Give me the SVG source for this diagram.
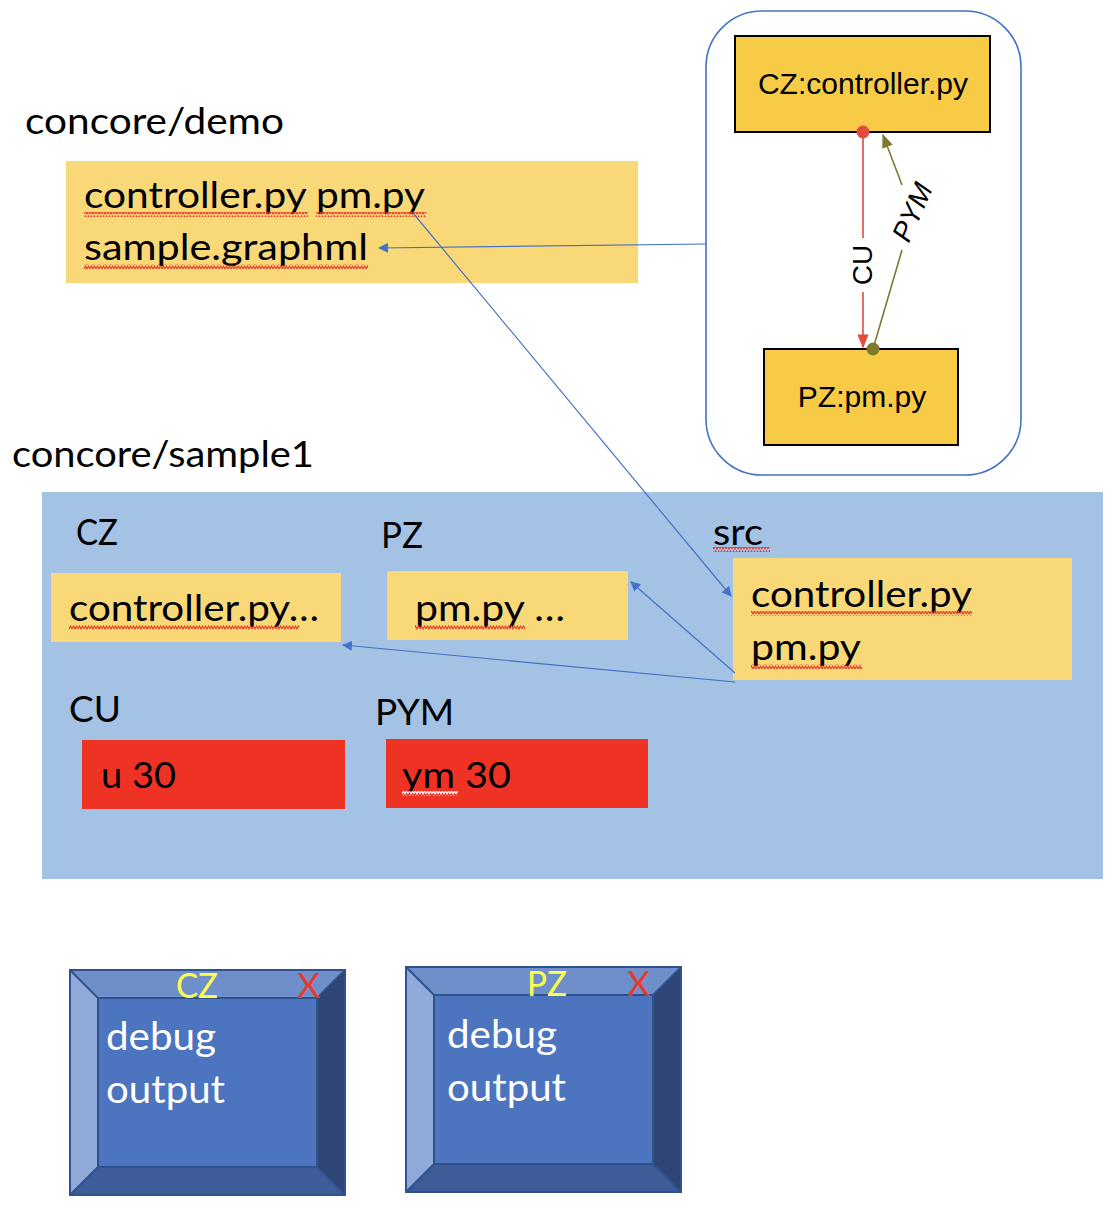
<svg xmlns="http://www.w3.org/2000/svg" width="1112" height="1212" viewBox="0 0 1112 1212">
<defs>
<style>
.cal{font-family:Lato,"Open Sans","Liberation Sans",sans-serif;font-size:37px;fill:#000}
.hel{font-family:"Liberation Sans",Arial,sans-serif;font-size:30px;fill:#000}
.ybox{fill:#F9D878}
.gbox{fill:#F7CB45;stroke:#000;stroke-width:2}
.rbox{fill:#EE3324}
.conn{stroke:#4472C4;stroke-width:1.2;fill:none}
.wt{fill:#fff;font-size:39px}
.yl{fill:#FFFF4D;font-size:34px}
.xr{fill:#E8392B;font-size:34px}
</style>
<pattern id="sq" width="6" height="5" patternUnits="userSpaceOnUse">
<path d="M0 4 L1.5 1 L3 4 L4.5 1 L6 4" stroke="#E8392B" stroke-width="1.1" fill="none"/>
</pattern>
<pattern id="sqw" width="6" height="5" patternUnits="userSpaceOnUse">
<path d="M0 4 L1.5 1 L3 4 L4.5 1 L6 4" stroke="#fff" stroke-width="1.1" fill="none"/>
</pattern>
<marker id="ab" viewBox="0 0 10 10" refX="9" refY="5" markerWidth="10" markerHeight="10" markerUnits="userSpaceOnUse" orient="auto">
<path d="M0 0 L10 5 L0 10 z" fill="#4472C4"/>
</marker>
<marker id="ar" viewBox="0 0 10 10" refX="9" refY="5" markerWidth="14" markerHeight="14" markerUnits="userSpaceOnUse" orient="auto">
<path d="M0 1 L10 5 L0 9 z" fill="#E24A3B"/>
</marker>
<marker id="ao" viewBox="0 0 10 10" refX="9" refY="5" markerWidth="14" markerHeight="14" markerUnits="userSpaceOnUse" orient="auto">
<path d="M0 1 L10 5 L0 9 z" fill="#7E7A2E"/>
</marker>
</defs>

<g id="graph-frame">
<rect x="706" y="11" width="315" height="464" rx="56" fill="#fff" stroke="#4472C4" stroke-width="1.6"/>
</g>
<g id="node-cz">
<rect class="gbox" x="735" y="36" width="255" height="96"/>
<text class="hel" x="863" y="94" text-anchor="middle">CZ:controller.py</text>
</g>
<g id="node-pz">
<rect class="gbox" x="764" y="349" width="194" height="96"/>
<text class="hel" x="862" y="407" text-anchor="middle">PZ:pm.py</text>
</g>

<g id="demo">
<text class="cal" x="25" y="134" textLength="259" lengthAdjust="spacingAndGlyphs">concore/demo</text>
<rect class="ybox" x="66" y="161" width="572" height="122"/>
<text class="cal" x="84" y="208" textLength="341" lengthAdjust="spacingAndGlyphs">controller.py pm.py</text>
<text class="cal" x="84" y="260" textLength="284" lengthAdjust="spacingAndGlyphs">sample.graphml</text>
<rect x="84" y="212" width="224" height="5" fill="url(#sq)"/>
<rect x="316" y="212" width="110" height="5" fill="url(#sq)"/>
<rect x="84" y="264" width="284" height="5" fill="url(#sq)"/>
</g>

<g id="sample1">
<text class="cal" x="12" y="467" textLength="302" lengthAdjust="spacingAndGlyphs">concore/sample1</text>
<rect x="42" y="492" width="1061" height="387" fill="#A4C2E4"/>
</g>
<g id="cz-dir">
<text class="cal" x="76" y="545" textLength="42" lengthAdjust="spacingAndGlyphs">CZ</text>
<rect class="ybox" x="51" y="573" width="290" height="69"/>
<text class="cal" x="69" y="621" textLength="250" lengthAdjust="spacingAndGlyphs">controller.py…</text>
<rect x="69" y="625" width="230" height="5" fill="url(#sq)"/>
</g>
<g id="pz-dir">
<text class="cal" x="381" y="548" textLength="42" lengthAdjust="spacingAndGlyphs">PZ</text>
<rect class="ybox" x="387" y="571" width="241" height="69"/>
<text class="cal" x="415" y="621" textLength="150" lengthAdjust="spacingAndGlyphs">pm.py …</text>
<rect x="415" y="625" width="110" height="5" fill="url(#sq)"/>
</g>
<g id="src-dir">
<text class="cal" x="713" y="545" textLength="50" lengthAdjust="spacingAndGlyphs">src</text>
<rect x="713" y="547" width="57" height="5" fill="url(#sq)"/>
<rect class="ybox" x="733" y="558" width="339" height="122"/>
<text class="cal" x="751" y="607" textLength="221" lengthAdjust="spacingAndGlyphs">controller.py</text>
<text class="cal" x="751" y="660" textLength="110" lengthAdjust="spacingAndGlyphs">pm.py</text>
<rect x="751" y="611" width="221" height="5" fill="url(#sq)"/>
<rect x="751" y="664" width="111" height="5" fill="url(#sq)"/>
</g>
<g id="cu-port">
<text class="cal" x="69" y="722">CU</text>
<rect class="rbox" x="82" y="740" width="263" height="69"/>
<text class="cal" x="101" y="788" textLength="75" lengthAdjust="spacingAndGlyphs">u 30</text>
</g>
<g id="pym-port">
<text class="cal" x="375" y="725">PYM</text>
<rect class="rbox" x="386" y="739" width="262" height="69"/>
<text class="cal" x="402" y="788" textLength="109" lengthAdjust="spacingAndGlyphs">ym 30</text>
<rect x="402" y="791" width="56" height="5" fill="url(#sqw)"/>
</g>

<g id="debug-cz">
<rect x="70" y="970" width="275" height="225" fill="#4D74BE"/>
<polygon points="70,970 345,970 317,998 98,998" fill="#6F8FCB"/>
<polygon points="70,970 98,998 98,1167 70,1195" fill="#8FA9D8"/>
<polygon points="345,970 345,1195 317,1167 317,998" fill="#2F4575"/>
<polygon points="70,1195 98,1167 317,1167 345,1195" fill="#3E5C97"/>
<rect x="70" y="970" width="275" height="225" fill="none" stroke="#2F528F" stroke-width="2"/>
<rect x="98" y="998" width="219" height="169" fill="none" stroke="#2F528F" stroke-width="2"/>
<path d="M70 970 L98 998 M345 970 L317 998 M70 1195 L98 1167 M345 1195 L317 1167" stroke="#2F528F" stroke-width="2"/>
<text class="cal yl" x="176" y="998" textLength="42" lengthAdjust="spacingAndGlyphs">CZ</text>
<text class="cal xr" x="297" y="998" textLength="23" lengthAdjust="spacingAndGlyphs">X</text>
<text class="cal wt" x="106" y="1050" textLength="110" lengthAdjust="spacingAndGlyphs">debug</text>
<text class="cal wt" x="106" y="1103" textLength="119" lengthAdjust="spacingAndGlyphs">output</text>
</g>
<g id="debug-pz">
<rect x="406" y="967" width="275" height="225" fill="#4D74BE"/>
<polygon points="406,967 681,967 653,995 434,995" fill="#6F8FCB"/>
<polygon points="406,967 434,995 434,1164 406,1192" fill="#8FA9D8"/>
<polygon points="681,967 681,1192 653,1164 653,995" fill="#2F4575"/>
<polygon points="406,1192 434,1164 653,1164 681,1192" fill="#3E5C97"/>
<rect x="406" y="967" width="275" height="225" fill="none" stroke="#2F528F" stroke-width="2"/>
<rect x="434" y="995" width="219" height="169" fill="none" stroke="#2F528F" stroke-width="2"/>
<path d="M406 967 L434 995 M681 967 L653 995 M406 1192 L434 1164 M681 1192 L653 1164" stroke="#2F528F" stroke-width="2"/>
<text class="cal yl" x="527" y="996" textLength="40" lengthAdjust="spacingAndGlyphs">PZ</text>
<text class="cal xr" x="627" y="996" textLength="23" lengthAdjust="spacingAndGlyphs">X</text>
<text class="cal wt" x="447" y="1048" textLength="110" lengthAdjust="spacingAndGlyphs">debug</text>
<text class="cal wt" x="447" y="1101" textLength="119" lengthAdjust="spacingAndGlyphs">output</text>
</g>

<g id="connectors">
<line class="conn" x1="706" y1="244" x2="379" y2="248" marker-end="url(#ab)"/>
<line class="conn" x1="413" y1="213" x2="731" y2="596" marker-end="url(#ab)"/>
<line class="conn" x1="735" y1="673" x2="631" y2="582" marker-end="url(#ab)"/>
<line class="conn" x1="735" y1="682" x2="343" y2="645" marker-end="url(#ab)"/>
<line x1="863" y1="132" x2="863" y2="238" stroke="#E24A3B" stroke-width="1.6"/>
<line x1="863" y1="292" x2="863" y2="347" stroke="#E24A3B" stroke-width="1.6" marker-end="url(#ar)"/>
<circle cx="863" cy="132" r="6.5" fill="#E24A3B"/>
<text class="hel" transform="translate(872,265) rotate(-90)" text-anchor="middle" style="font-size:28px">CU</text>
<line x1="873" y1="349" x2="902" y2="250" stroke="#7E7A2E" stroke-width="1.6"/>
<line x1="902" y1="185" x2="883" y2="135" stroke="#7E7A2E" stroke-width="1.6" marker-end="url(#ao)"/>
<circle cx="873" cy="349" r="6.5" fill="#7E7A2E"/>
<text class="hel" transform="translate(921,216) rotate(-66)" text-anchor="middle" style="font-size:28px;font-style:italic">PYM</text>
</g>
</svg>
